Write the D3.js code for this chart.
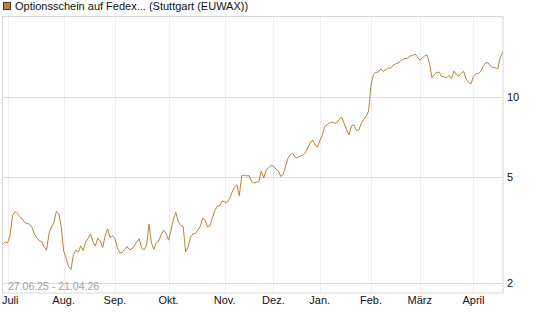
<!DOCTYPE html>
<html>
<head>
<meta charset="utf-8">
<title>Optionsschein</title>
<script src="https://cdn.jsdelivr.net/npm/d3@7"></script>
<style>
  body { margin: 0; background: #fff; }
  text { font-family: "Liberation Sans", Arial, sans-serif; }
</style>
</head>
<body>
<script>
// title and date range
var title = "Optionsschein auf Fedex... (Stuttgart (EUWAX))";
var range = "27.06.25 - 21.04.26";

// closing prices, one per trading day (27.06.25 - 21.04.26)
var prices = [
  2.80, 2.86, 2.83, 3.01, 3.58, 3.71, 3.66, 3.56, 3.48, 3.38,
  3.35, 3.33, 3.24, 3.06, 2.95, 2.89, 2.86, 2.74, 2.66, 3.08,
  3.25, 3.38, 3.72, 3.65, 3.26, 2.64, 2.48, 2.31, 2.25, 2.56,
  2.66, 2.62, 2.76, 2.65, 2.85, 2.94, 3.06, 2.86, 2.76, 2.95,
  2.88, 2.72, 3.01, 3.20, 2.97, 3.01, 2.95, 2.71, 2.60, 2.61,
  2.68, 2.74, 2.67, 2.69, 2.76, 2.87, 2.93, 2.70, 2.67, 2.78,
  3.33, 2.83, 2.68, 2.84, 2.88, 3.05, 3.16, 3.07, 2.90, 3.17,
  3.48, 3.69, 3.39, 3.30, 3.26, 2.62, 2.73, 2.98, 3.06, 3.07,
  3.17, 3.27, 3.51, 3.45, 3.25, 3.28, 3.53, 3.75, 3.89, 3.91,
  4.07, 4.03, 4.02, 4.15, 4.38, 4.59, 4.68, 4.26, 5.06, 5.10,
  5.06, 5.07, 4.83, 4.75, 4.79, 4.81, 5.28, 4.97, 5.30, 5.44,
  5.54, 5.51, 5.37, 5.29, 5.03, 5.13, 5.51, 5.91, 6.09, 6.14,
  5.91, 5.93, 6.01, 6.03, 6.17, 6.43, 6.72, 6.90, 6.63, 6.48,
  6.85, 7.17, 7.75, 7.88, 7.99, 8.08, 7.99, 8.00, 8.26, 8.40,
  7.96, 7.54, 7.22, 7.80, 7.87, 7.52, 7.52, 7.97, 8.24, 8.46,
  8.86, 11.10, 12.17, 12.40, 12.43, 12.79, 12.52, 12.67, 12.85, 12.87,
  13.13, 13.34, 13.43, 13.66, 13.87, 13.98, 14.02, 14.29, 14.34, 14.54,
  14.22, 13.76, 14.07, 14.28, 14.42, 13.36, 11.83, 12.20, 12.42, 12.40,
  11.97, 11.93, 11.83, 12.09, 11.74, 12.56, 12.18, 12.01, 12.28, 12.51,
  11.70, 11.35, 11.23, 11.99, 12.25, 12.29, 12.50, 13.04, 13.47, 13.46,
  13.09, 12.93, 12.89, 12.79, 14.14, 14.77
];

// first trading day of each month (index into prices)
var monthIdx = [2, 25, 46, 68, 91, 111, 130, 151, 171, 193];
var monthLabels = ["Juli", "Aug.", "Sep.", "Okt.", "Nov.", "Dez.", "Jan.", "Feb.", "März", "April"];

// y axis ticks
var yTicks = [2, 5, 10];

window.onload = function(){

    var W = 545, H = 327;
    var plot = {left: 2.7, right: 502.7, top: 16, bottom: 293};

    var svg = d3.select("body").append("svg")
        .attr("width", W)
        .attr("height", H);

    // scales
    var x = d3.scaleLinear()
        .domain([0, prices.length - 1])
        .range([plot.left, plot.right]);

    var y = d3.scaleLog()
        .domain([1.835, 20.2])
        .range([plot.bottom, plot.top]);

    // vertical gridlines (months)
    svg.append("g").selectAll("line")
        .data(monthIdx)
        .enter().append("line")
        .attr("x1", function(d){ return Math.round(x(d)) + 0.5; })
        .attr("x2", function(d){ return Math.round(x(d)) + 0.5; })
        .attr("y1", plot.top)
        .attr("y2", plot.bottom)
        .attr("stroke", "#efefef")
        .attr("stroke-width", 1);

    // horizontal gridlines
    svg.append("g").selectAll("line")
        .data(yTicks)
        .enter().append("line")
        .attr("x1", plot.left)
        .attr("x2", plot.right)
        .attr("y1", function(d){ return Math.round(y(d)) + 0.5; })
        .attr("y2", function(d){ return Math.round(y(d)) + 0.5; })
        .attr("stroke", "#dcdcdc")
        .attr("stroke-width", 1);

    // frame
    svg.append("rect")
        .attr("x", 2.5)
        .attr("y", 16.5)
        .attr("width", 500.5)
        .attr("height", 276.5)
        .attr("fill", "none")
        .attr("stroke", "#d6d6d6");

    // date range label
    svg.append("text")
        .attr("x", 8)
        .attr("y", 289.5)
        .attr("font-size", "10.5px")
        .attr("fill", "#a0a0a0")
        .text(range);

    // price line
    var line = d3.line()
        .x(function(d, i){ return x(i); })
        .y(function(d){ return y(d); });

    svg.append("path")
        .datum(prices)
        .attr("d", line)
        .attr("fill", "none")
        .attr("stroke", "#b8833a")
        .attr("stroke-width", 1)
        .attr("stroke-linejoin", "round");

    // y tick labels
    svg.append("g").selectAll("text")
        .data(yTicks)
        .enter().append("text")
        .attr("x", 507)
        .attr("y", function(d){ return y(d) + 4; })
        .attr("font-size", "11px")
        .attr("fill", "#111")
        .text(function(d){ return d; });

    // month labels
    svg.append("g").selectAll("text")
        .data(monthIdx)
        .enter().append("text")
        .attr("x", function(d, i){ return i == 0 ? 2 : x(d); })
        .attr("y", 304)
        .attr("font-size", "11px")
        .attr("fill", "#111")
        .attr("text-anchor", function(d, i){ return i == 0 ? "start" : "middle"; })
        .text(function(d, i){ return monthLabels[i]; });

    // legend square + title
    svg.append("rect")
        .attr("x", 3.5)
        .attr("y", 2.5)
        .attr("width", 7)
        .attr("height", 7)
        .attr("fill", "#b0824a")
        .attr("stroke", "#4a3a28");

    svg.append("text")
        .attr("x", 15)
        .attr("y", 10)
        .attr("font-size", "11px")
        .attr("fill", "#111")
        .text(title);
};
</script>
</body>
</html>
